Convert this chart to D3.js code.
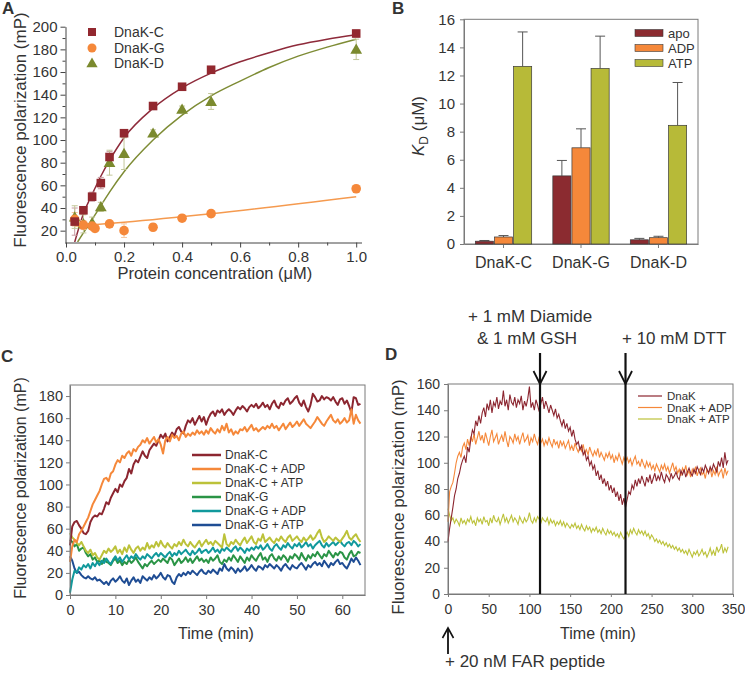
<!DOCTYPE html>
<html><head><meta charset="utf-8">
<script src="https://cdn.jsdelivr.net/npm/d3@7"></script>
<style>body{margin:0;background:#fff} svg{display:block} text{font-family:"Liberation Sans",Arial,sans-serif;fill:#333}</style>
</head><body><svg id="c" width="745" height="673"></svg>
<script>
// ---------- Panel A ----------
const concA = [0.03,0.06,0.09,0.12,0.15,0.2,0.3,0.4,0.5,1.0];
const concAG = [0.03,0.06,0.09,0.1,0.15,0.2,0.3,0.4,0.5,1.0];
const fpC = [28,38,50,62,85,106,130,147,162,194];
const fpG = [30,25,24,22,26,20,23,31,35,57];
const fpD = [32,26,27,41,80,88,106,127,134,180];
const errC = [12,3,4,5,5,3,3,2,2,3];
const errG = [6,4,3,3,3,6,3,3,3,3];
const errD = [10,8,5,4,11,14,3,3,7,9];
const fitXC = [0.03,0.06,0.09,0.12,0.15,0.2,0.3,0.4,0.5,0.6,0.7,0.8,0.9,1.0];
const fitYC = [10,35,52,68,82,102,128,146,159,169,177,184,189,193];
const fitXD = [0.04,0.06,0.09,0.12,0.15,0.2,0.3,0.4,0.5,0.6,0.7,0.8,0.9,1.0];
const fitYD = [10,18,30,42,54,72,100,122,139,152,164,174,182,189];
const fitXG = [0.03,0.2,0.5,1.0];
const fitYG = [24,27.5,35,50];
const seriesA = ["DnaK-C","DnaK-G","DnaK-D"];
const xTicksA = [0,0.2,0.4,0.6,0.8,1.0];
const yTicksA = [20,40,60,80,100,120,140,160,180,200];

// ---------- Panel B ----------
const groupsB = ["DnaK-C","DnaK-G","DnaK-D"];
const statesB = ["apo","ADP","ATP"];
const kdApo = [0.2,4.85,0.3];
const kdADP = [0.5,6.85,0.45];
const kdATP = [12.65,12.5,8.45];
const errApo = [0.05,1.1,0.1];
const errADP = [0.1,1.35,0.1];
const errATP = [2.45,2.3,3.05];
const yTicksB = [0,2,4,6,8,10,12,14,16];

// ---------- Panel C (every 0.5 min, 0–64 min) ----------
const stepC = 0.5;
const cC = [45,62,66,67,63,60,56,55,58,66, 70,72,71,74,73,78,84,82,88,92, 96,93,100,98,103,106,114,110,118,122,
 120,125,130,126,124,131,134,137,135,140, 145,142,146,139,143,147,144,150,152,148, 146,153,158,156,160,154,158,162,157,161,
 154,160,164,166,162,167,165,168,163,166, 168,166,163,167,170,168,171,169,166,170, 172,170,173,169,171,174,170,172,168,173,
 176,171,169,174,172,176,178,173,175,178, 180,174,171,176,170,166,172,182,179,175, 176,180,177,179,178,176,179,175,172,177,
 178,173,176,171,165,179,178,172,173];
const cADP = [30,44,50,48,55,58,62,66,70,76, 82,86,90,94,100,105,106,103,110,112, 118,122,120,126,124,128,130,126,132,130,
 134,136,140,138,142,137,140,143,138,141, 136,128,140,143,139,145,142,144,140,146, 148,143,146,144,147,145,149,146,148,145,
 149,146,151,148,146,150,147,153,149,155, 147,150,145,148,146,150,149,152,148,151, 154,149,151,148,150,152,150,153,151,155,
 151,153,149,152,155,150,153,156,152,154, 157,153,156,159,155,153,151,154,157,161, 158,155,153,157,160,163,158,156,159,155,
 157,160,156,158,168,155,163,158,155];
const cATP = [56,52,50,47,45,48,44,40,38,41, 36,38,34,32,36,40,38,42,39,41, 44,38,41,37,43,39,45,41,38,42,
 44,40,43,41,47,42,45,43,48,44, 49,45,43,47,44,42,46,44,48,45, 50,46,44,48,45,43,46,49,44,47,
 50,46,48,45,49,47,45,43,55,46, 44,48,46,50,47,45,49,52,47,50, 53,48,46,51,49,55,48,50,52,49,
 47,51,49,53,50,48,52,54,49,51, 53,50,48,52,49,51,54,50,52,56, 59,52,48,50,53,51,49,52,50,48,
 51,54,58,52,50,53,55,51,48];
const gC = [50,48,44,46,40,42,43,38,35,37, 32,34,30,31,28,33,30,29,27,31, 33,29,31,27,30,28,32,29,31,34,
 30,27,24,28,26,29,31,28,30,32, 30,33,31,29,34,32,27,30,33,29, 31,34,30,33,29,32,35,31,33,30,
 32,29,34,31,33,36,30,28,32,30, 34,31,36,33,30,35,32,29,34,31, 36,33,31,35,38,32,34,30,35,37,
 33,31,35,32,36,34,30,35,33,37, 35,32,38,34,31,36,33,37,35,39, 36,33,37,35,40,37,34,38,36,39,
 38,34,32,37,40,35,36,39,38];
const gADP = [2,14,22,20,25,23,27,25,28,24, 29,26,30,27,31,29,33,30,28,32, 35,31,34,30,33,36,32,35,33,37,
 34,32,35,33,37,35,33,36,38,35, 38,36,34,37,39,35,38,36,40,37, 39,41,38,36,40,37,39,42,38,40,
 41,38,40,43,39,41,38,42,40,43, 41,39,42,44,40,43,41,38,42,40, 43,41,44,42,45,41,43,46,42,40,
 44,46,43,41,45,43,47,44,42,46, 44,47,43,45,48,44,46,42,45,47, 49,45,43,47,44,46,48,45,47,49,
 46,44,47,48,45,49,47,44,46];
const gATP = [35,31,24,20,21,18,16,15,17,15, 14,16,13,14,12,10,12,9,13,15, 12,14,17,13,11,15,9,13,16,12,
 14,11,17,15,13,16,14,18,15,17, 20,16,14,18,17,12,10,16,19,17, 20,18,21,19,22,20,18,21,23,20,
 19,22,20,23,21,19,24,22,28,24, 22,25,23,20,24,21,23,26,22,24, 27,24,22,26,25,23,27,25,28,26,
 24,27,25,22,26,28,25,23,27,25, 24,27,29,26,23,27,25,28,30,27, 29,26,31,28,25,29,27,30,32,28,
 29,26,24,28,33,30,34,31,27];
const namesC = ["DnaK-C","DnaK-C + ADP","DnaK-C + ATP","DnaK-G","DnaK-G + ADP","DnaK-G + ATP"];
const colorsC = ["#8c2630","#f5883a","#bcc23a","#2a9446","#11999c","#1f4d94"];
const xTicksC = [0,10,20,30,40,50,60];
const yTicksC = [0,20,40,60,80,100,120,140,160,180];

// ---------- Panel D (every 2 min, 0–344 min) ----------
const stepD = 2;
const dApo = [40,50,58,66,75,80,88,92,98,102, 105,100,112,108,118,125,122,132,128,136, 130,138,142,135,145,140,148,138,146,143,
 150,141,147,144,155,143,148,140,152,146, 144,150,142,148,145,151,140,147,143,149, 158,142,146,140,148,144,139,145,150,141,
 147,143,138,144,140,136,141,134,137,132, 128,133,126,130,124,127,120,125,118,114, 116,110,113,106,109,102,105,98,101,95,
 98,90,94,87,91,84,88,82,86,79, 83,77,81,74,78,71,76,68,73,66, 72,78,76,83,80,87,82,88,84,90,
 86,82,89,85,91,84,88,92,86,90, 87,93,88,85,91,89,86,92,88,90, 93,89,87,94,91,95,89,93,96,92,
 90,95,92,97,94,91,96,93,98,95, 92,97,94,99,96,93,101,97,104,96, 108,99,102];
const dADP = [55,78,82,85,92,100,105,108,104,112, 115,110,118,113,120,116,122,114,119,124, 117,121,115,123,118,113,120,125,116,119,
 122,114,118,121,116,124,117,112,120,118, 115,122,117,120,114,119,123,116,118,121, 113,119,116,122,117,114,120,115,118,113,
 117,114,119,115,112,118,114,116,111,117, 113,116,111,114,117,110,113,109,115,111, 108,112,109,114,107,110,106,112,108,105,
 109,106,111,104,108,105,102,107,104,108, 103,106,100,105,102,107,103,99,104,101, 104,100,103,98,102,105,99,101,97,103,
 99,96,101,97,100,95,98,94,99,96, 93,98,95,99,94,97,92,96,100,94, 97,92,95,90,96,93,98,91,94,89,
 95,92,97,90,94,96,91,93,88,95, 92,96,89,94,91,97,90,93,95,88, 96,91,94];
const dATP = [65,60,56,58,54,57,55,52,58,54, 56,53,57,55,59,54,56,52,58,55, 57,53,59,55,56,52,58,54,60,56,
 55,58,53,57,61,55,58,54,57,60, 55,58,56,53,59,56,54,58,55,57, 62,56,54,58,55,59,57,54,58,56,
 55,58,53,57,54,56,52,55,53,56, 52,55,51,54,52,50,53,51,54,50, 52,49,53,50,48,52,49,51,47,50,
 48,51,47,49,46,50,47,45,49,46, 48,45,47,44,46,43,47,44,42,45, 47,44,49,46,50,47,45,49,46,48,
 45,48,44,46,42,45,43,40,42,39, 41,38,40,37,39,36,38,35,37,34, 36,33,35,32,34,31,33,30,34,31,
 28,32,30,33,29,31,34,30,32,28, 31,35,30,33,29,36,32,34,38,31, 35,32,36];
const namesD = ["DnaK","DnaK + ADP","DnaK + ATP"];
const colorsD = ["#8c2630","#f5883a","#bcc23a"];
const xTicksD = [0,50,100,150,200,250,300,350];
const yTicksD = [0,20,40,60,80,100,120,140,160];
const eventsD = [113,218];

const svg = d3.select("#c");
const AX = "#7a7a7a";

function styleAxis(g, fs){
  g.selectAll("path.domain").attr("stroke",AX);
  g.selectAll(".tick line").attr("stroke",AX);
  g.selectAll(".tick text").attr("font-size",fs).attr("fill","#333").attr("font-family","Liberation Sans, Arial, sans-serif");
}
function letter(t,x,y){ svg.append("text").attr("x",x).attr("y",y).attr("font-size",17).attr("font-weight","bold").attr("fill","#222").text(t); }

// ===== Panel A =====
(function(){
  const x = d3.scaleLinear().domain([0,1.02]).range([66,362]);
  const y = d3.scaleLinear().domain([10,200]).range([242,26.7]);
  const g = svg.append("g");
  // minor ticks
  g.append("g").attr("transform","translate(65.5,0)")
    .call(d3.axisLeft(y).tickValues([30,50,70,90,110,130,150,170,190]).tickSize(3).tickFormat("").tickSizeOuter(0))
    .call(a=>{a.select(".domain").remove(); a.selectAll("line").attr("stroke","#444");});
  g.append("g").attr("transform","translate(0,242.5)")
    .call(d3.axisBottom(x).tickValues([0.1,0.3,0.5,0.7,0.9]).tickSize(3).tickFormat("").tickSizeOuter(0))
    .call(a=>{a.select(".domain").remove(); a.selectAll("line").attr("stroke","#444");});
  const ay = g.append("g").attr("transform","translate(65.5,0)")
    .call(d3.axisLeft(y).tickValues(yTicksA).tickSize(5).tickPadding(3).tickSizeOuter(0));
  styleAxis(ay,15); ay.selectAll("path,line").attr("stroke","#444");
  const ax = g.append("g").attr("transform","translate(0,242.5)")
    .call(d3.axisBottom(x).tickValues(xTicksA).tickFormat(d3.format(".1f")).tickSize(5).tickPadding(4).tickSizeOuter(0));
  styleAxis(ax,15); ax.selectAll("path,line").attr("stroke","#444");
  ax.select(".domain").attr("d","M65,0.5H362");

  const clip = svg.append("clipPath").attr("id","clipA").append("rect").attr("x",66).attr("y",20).attr("width",300).attr("height",222);
  const line = d3.line().x(d=>x(d[0])).y(d=>y(d[1])).curve(d3.curveMonotoneX);
  const fits = [[fitXC,fitYC,"#8e2a3a"],[fitXG,fitYG,"#f59a4f"],[fitXD,fitYD,"#7e8c35"]];
  fits.forEach(([fx,fy,c])=>{
    g.append("path").attr("clip-path","url(#clipA)").attr("d",line(d3.zip(fx,fy))).attr("fill","none").attr("stroke",c).attr("stroke-width",1.5);
  });
  // error bars
  const eb = [[concA,fpC,errC,"#c79aa0"],[concAG,fpG,errG,"#f6c7a0"],[concA,fpD,errD,"#c3c79a"]];
  eb.forEach(([cx,cy,ce,c])=>{
    cx.forEach((cv,i)=>{
      const xx=x(cv), y1=y(cy[i]-ce[i]), y2=y(cy[i]+ce[i]);
      g.append("line").attr("x1",xx).attr("x2",xx).attr("y1",y1).attr("y2",y2).attr("stroke",c).attr("stroke-width",1);
      [y1,y2].forEach(yy=>g.append("line").attr("x1",xx-3).attr("x2",xx+3).attr("y1",yy).attr("y2",yy).attr("stroke",c).attr("stroke-width",1));
    });
  });
  const tri = d3.symbol().type(d3.symbolTriangle).size(60);
  concA.forEach((cv,i)=>g.append("path").attr("d",tri()).attr("transform",`translate(${x(cv)},${y(fpD[i])+1})`).attr("fill","#7b8a2e"));
  concAG.forEach((cv,i)=>g.append("circle").attr("cx",x(cv)).attr("cy",y(fpG[i])).attr("r",4.8).attr("fill","#f5883a"));
  concA.forEach((cv,i)=>g.append("rect").attr("x",x(cv)-4.3).attr("y",y(fpC[i])-4.3).attr("width",8.6).attr("height",8.6).attr("fill","#92282f"));
  // legend
  const ly=[32,48,63];
  g.append("rect").attr("x",88).attr("y",ly[0]-4).attr("width",8).attr("height",8).attr("fill","#92282f");
  g.append("circle").attr("cx",92).attr("cy",ly[1]).attr("r",4.5).attr("fill","#f5883a");
  g.append("path").attr("d",d3.symbol().type(d3.symbolTriangle).size(55)()).attr("transform",`translate(92,${ly[2]+1})`).attr("fill","#7b8a2e");
  seriesA.forEach((s,i)=>g.append("text").attr("x",114).attr("y",ly[i]).attr("dy","0.36em").attr("font-size",14).text(s));
  g.append("text").attr("transform","translate(26,130) rotate(-90)").attr("text-anchor","middle").attr("font-size",17).text("Fluorescence polarization (mP)");
  g.append("text").attr("x",215).attr("y",279).attr("text-anchor","middle").attr("font-size",16.5).text("Protein concentration (\u03bcM)");
  letter("A",2,14);
})();

// ===== Panel B =====
(function(){
  const x0 = d3.scaleBand().domain(groupsB).range([464,698]).paddingInner(0.26).paddingOuter(0.14);
  const x1 = d3.scaleBand().domain(statesB).range([0,x0.bandwidth()]).padding(0);
  const y = d3.scaleLinear().domain([0,16]).range([244,19.3]);
  const colors = ["#8b2b30","#f5883a","#b7ba38"];
  const vals = [kdApo,kdADP,kdATP], errs=[errApo,errADP,errATP];
  const g = svg.append("g");
  g.append("rect").attr("x",464).attr("y",19.3).attr("width",234).attr("height",224.7).attr("fill","none").attr("stroke",AX);
  const ay = g.append("g").attr("transform","translate(464,0)").call(d3.axisLeft(y).tickValues(yTicksB).tickSize(4).tickPadding(5).tickSizeOuter(0));
  styleAxis(ay,15);
  const ax = g.append("g").attr("transform","translate(0,244)").call(d3.axisBottom(x0).tickSize(4).tickPadding(9).tickSizeOuter(0));
  styleAxis(ax,16);
  groupsB.forEach((grp,gi)=>{
    statesB.forEach((st,si)=>{
      const v = vals[si][gi], e = errs[si][gi];
      const bx = x0(grp)+x1(st), bw = x1.bandwidth();
      const cx = bx+bw/2;
      g.append("line").attr("x1",cx).attr("x2",cx).attr("y1",y(v)).attr("y2",y(v+e)).attr("stroke","#555").attr("stroke-width",1);
      g.append("line").attr("x1",cx-5).attr("x2",cx+5).attr("y1",y(v+e)).attr("y2",y(v+e)).attr("stroke","#555").attr("stroke-width",1);
      g.append("rect").attr("x",bx+0.5).attr("y",y(v)).attr("width",bw-1).attr("height",244-y(v)).attr("fill",colors[si]).attr("stroke","#3a3a3a").attr("stroke-width",0.7);
    });
  });
  const ly=[33,48,63];
  statesB.forEach((s,i)=>{
    g.append("rect").attr("x",635).attr("y",ly[i]-3.5).attr("width",28).attr("height",7).attr("fill",colors[i]).attr("stroke","#3a3a3a").attr("stroke-width",0.6);
    g.append("text").attr("x",668).attr("y",ly[i]).attr("dy","0.36em").attr("font-size",13).text(s);
  });
  const t = g.append("text").attr("transform","translate(424,126) rotate(-90)").attr("text-anchor","middle").attr("font-size",17);
  t.append("tspan").attr("font-style","italic").text("K");
  t.append("tspan").attr("font-size",12).attr("dy",4).text("D");
  t.append("tspan").attr("dy",-4).text(" (\u03bcM)");
  letter("B",392,14);
})();

// ===== Panel C =====
(function(){
  const x = d3.scaleLinear().domain([0,65]).range([70,365]);
  const y = d3.scaleLinear().domain([0,190]).range([595,385]);
  const g = svg.append("g");
  const ay = g.append("g").attr("transform","translate(70,0)").call(d3.axisLeft(y).tickValues(yTicksC).tickSize(4).tickPadding(3).tickSizeOuter(0));
  styleAxis(ay,14.5);
  const ax = g.append("g").attr("transform","translate(0,595)").call(d3.axisBottom(x).tickValues(xTicksC).tickSize(4).tickPadding(6).tickSizeOuter(0));
  styleAxis(ax,14.5);
  const series = [cC,cADP,cATP,gC,gADP,gATP];
  const line = d3.line().x((d,i)=>x(i*stepC)).y(d=>y(d));
  const order = [5,3,4,2,0,1];
  order.forEach(k=>g.append("path").attr("d",line(series[k])).attr("fill","none").attr("stroke",colorsC[k]).attr("stroke-width",2).attr("stroke-linejoin","round"));
  g.append("rect").attr("x",70).attr("y",385).attr("width",295).attr("height",210).attr("fill","none").attr("stroke",AX);
  namesC.forEach((n,i)=>{
    const yy = 455+i*14;
    g.append("line").attr("x1",192).attr("x2",221).attr("y1",yy).attr("y2",yy).attr("stroke",colorsC[i]).attr("stroke-width",2.5);
    g.append("text").attr("x",225).attr("y",yy).attr("dy","0.36em").attr("font-size",12).text(n);
  });
  g.append("text").attr("transform","translate(26,488) rotate(-90)").attr("text-anchor","middle").attr("font-size",16).text("Fluorescence polarization (mP)");
  g.append("text").attr("x",216).attr("y",639).attr("text-anchor","middle").attr("font-size",16).text("Time (min)");
  letter("C",1,362);
})();

// ===== Panel D =====
(function(){
  const x = d3.scaleLinear().domain([0,350]).range([448,733]);
  const y = d3.scaleLinear().domain([0,160]).range([594,384]);
  const g = svg.append("g");
  const ay = g.append("g").attr("transform","translate(448,0)").call(d3.axisLeft(y).tickValues(yTicksD).tickSize(4).tickPadding(4).tickSizeOuter(0));
  styleAxis(ay,14);
  const ax = g.append("g").attr("transform","translate(0,594)").call(d3.axisBottom(x).tickValues(xTicksD).tickSize(3).tickPadding(7).tickSizeOuter(0));
  styleAxis(ax,14);
  const series = [dApo,dADP,dATP];
  const line = d3.line().x((d,i)=>x(i*stepD)).y(d=>y(d));
  [2,1,0].forEach(k=>g.append("path").attr("d",line(series[k])).attr("fill","none").attr("stroke",colorsD[k]).attr("stroke-width",1.1));
  g.append("rect").attr("x",448).attr("y",384).attr("width",285).attr("height",210).attr("fill","none").attr("stroke",AX);
  namesD.forEach((n,i)=>{
    const yy = 396+i*11.5;
    g.append("line").attr("x1",638).attr("x2",662).attr("y1",yy).attr("y2",yy).attr("stroke",colorsD[i]).attr("stroke-width",1.2);
    g.append("text").attr("x",667).attr("y",yy).attr("dy","0.36em").attr("font-size",11.5).text(n);
  });
  // event arrows
  eventsD.forEach(t=>{
    const xx = x(t);
    g.append("line").attr("x1",xx).attr("x2",xx).attr("y1",353).attr("y2",594).attr("stroke","#111").attr("stroke-width",2.2);
    g.append("path").attr("d",`M${xx-6.5},371L${xx},384L${xx+6.5},371`).attr("fill","none").attr("stroke","#111").attr("stroke-width",1.8);
  });
  // start arrow
  const x0 = x(0);
  g.append("line").attr("x1",x0).attr("x2",x0).attr("y1",628).attr("y2",654).attr("stroke","#111").attr("stroke-width",1.8);
  g.append("path").attr("d",`M${x0-5.5},638L${x0},628L${x0+5.5},638`).attr("fill","none").attr("stroke","#111").attr("stroke-width",1.6);
  const af = "Lato, 'Open Sans', sans-serif";
  svg.append("text").attr("x",468).attr("y",322).attr("font-size",17).attr("font-family",af).attr("fill","#111").text("+ 1 mM Diamide");
  svg.append("text").attr("x",477).attr("y",344).attr("font-size",17).attr("font-family",af).attr("fill","#111").text("& 1 mM GSH");
  svg.append("text").attr("x",622).attr("y",344).attr("font-size",17).attr("font-family",af).attr("fill","#111").text("+ 10 mM DTT");
  svg.append("text").attr("x",445).attr("y",667).attr("font-size",17).attr("font-family",af).attr("fill","#111").text("+ 20 nM FAR peptide");
  g.append("text").attr("transform","translate(404,497) rotate(-90)").attr("text-anchor","middle").attr("font-size",17).text("Fluorescence polarization (mP)");
  g.append("text").attr("x",598).attr("y",639).attr("text-anchor","middle").attr("font-size",16).text("Time (min)");
  letter("D",385,360);
})();
</script></body></html>
